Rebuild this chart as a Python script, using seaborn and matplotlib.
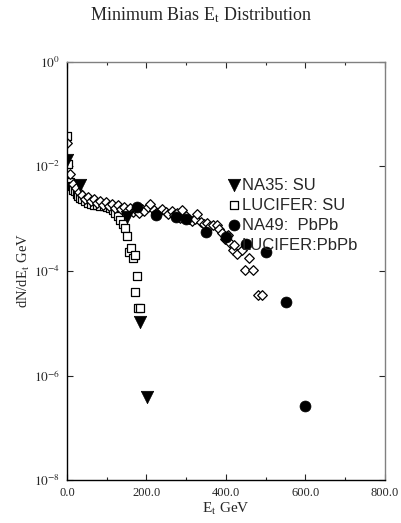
import matplotlib
matplotlib.use('Agg')
import matplotlib.pyplot as plt
import seaborn as sns
import numpy as np
from matplotlib.ticker import FixedLocator, MultipleLocator

# NA35 S+Au (filled triangles)
na35_et = [0, 33, 150, 184, 201]
na35_dn = [1.32e-2, 4.4e-3, 1.07e-3, 1.05e-5, 3.9e-7]

# LUCIFER S+Au (open squares)
lucsu_et = [0, 3, 8, 12, 16, 20, 24, 28, 33, 38, 45, 52, 60, 68, 76, 84, 92, 100,
            108, 116, 122, 128, 134, 140, 146, 151, 156, 160, 166, 170, 176, 171, 179, 184]
lucsu_dn = [3.8e-2, 1.10e-2, 5.0e-3, 4.2e-3, 3.6e-3, 3.3e-3, 3.0e-3, 2.75e-3, 2.5e-3,
            2.35e-3, 2.2e-3, 2.0e-3, 1.9e-3, 1.8e-3, 1.8e-3, 1.74e-3, 1.74e-3, 1.66e-3,
            1.58e-3, 1.45e-3, 1.26e-3, 1.10e-3, 9.5e-4, 7.9e-4, 6.6e-4, 4.6e-4, 2.3e-4,
            2.75e-4, 1.74e-4, 2.0e-4, 7.9e-5, 4.0e-5, 1.95e-5, 1.95e-5]

# NA49 Pb+Pb (filled circles)
na49_et = [175, 225, 275, 300, 350, 400, 450, 500, 550, 600]
na49_dn = [1.66e-3, 1.17e-3, 1.07e-3, 9.8e-4, 5.5e-4, 4.5e-4, 3.2e-4, 2.3e-4, 2.5e-5, 2.6e-7]

# LUCIFER Pb+Pb (open diamonds)
lucpb_et = [0, 8, 15, 22, 30, 38, 45, 53, 60, 68, 75, 83, 90, 98, 105, 113, 120, 128,
            135, 143, 150, 158, 165, 173, 180, 188, 195, 203, 210, 218, 225, 233, 240,
            248, 255, 263, 270, 278, 285, 290, 300, 308, 315, 323, 327, 338, 345, 353,
            360, 368, 377, 383, 390, 398, 405, 410, 418, 428, 440, 448, 458, 468, 480, 490]
lucpb_dn = [2.75e-2, 7.1e-3, 4.5e-3, 3.8e-3, 3.2e-3, 2.8e-3, 2.4e-3, 2.6e-3, 2.2e-3,
            2.4e-3, 2.0e-3, 2.2e-3, 1.8e-3, 2.1e-3, 1.74e-3, 1.9e-3, 1.58e-3, 1.8e-3,
            1.51e-3, 1.66e-3, 1.41e-3, 1.58e-3, 1.32e-3, 1.45e-3, 1.26e-3, 1.51e-3,
            1.38e-3, 1.66e-3, 1.9e-3, 1.45e-3, 1.26e-3, 1.38e-3, 1.51e-3, 1.32e-3,
            1.20e-3, 1.38e-3, 1.15e-3, 1.26e-3, 1.05e-3, 1.48e-3, 1.10e-3, 1.0e-3,
            9.1e-4, 1.0e-3, 1.20e-3, 8.7e-4, 7.9e-4, 8.3e-4, 7.2e-4, 7.6e-4, 7.6e-4,
            6.3e-4, 5.2e-4, 4.0e-4, 4.8e-4, 3.4e-4, 2.5e-4, 2.1e-4, 2.5e-4, 1.02e-4,
            1.74e-4, 1.02e-4, 3.5e-5, 3.5e-5]

x_ticks = [0, 200, 400, 600, 800]
x_labels = ['0.0', '200.0', '400.0', '600.0', '800.0']
y_ticks = [1e-8, 1e-6, 1e-4, 1e-2, 1e0]
y_labels = [r'$10^{-8}$', r'$10^{-6}$', r'$10^{-4}$', r'$10^{-2}$', r'$10^{0}$']

sns.set_style('ticks')
plt.rcParams['font.family'] = ['Liberation Serif', 'DejaVu Serif']
plt.rcParams['mathtext.fontset'] = 'stix'

fig = plt.figure(figsize=(4.01, 5.23), dpi=100)
ax = fig.add_axes([0.167, 0.082, 0.793, 0.8])

sns.scatterplot(x=na35_et, y=na35_dn, marker='v', s=80, color='black',
                edgecolor='black', linewidth=0.5, ax=ax, label='NA35: SU', zorder=3)
sns.scatterplot(x=lucsu_et, y=lucsu_dn, marker='s', s=32, color='white',
                edgecolor='black', linewidth=0.9, ax=ax, label='LUCIFER: SU', zorder=2)
sns.scatterplot(x=na49_et, y=na49_dn, marker='o', s=62, color='black',
                edgecolor='black', linewidth=0.5, ax=ax, label='NA49:  PbPb', zorder=3)
sns.scatterplot(x=lucpb_et, y=lucpb_dn, marker='D', s=24, color='white',
                edgecolor='black', linewidth=0.9, ax=ax, label='LUCIFER:PbPb', zorder=2)

ax.set_yscale('log')
ax.set_xlim(0, 800)
ax.set_ylim(1e-8, 1e0)
ax.xaxis.set_major_locator(FixedLocator(x_ticks))
ax.set_xticklabels(x_labels)
ax.xaxis.set_minor_locator(MultipleLocator(100))
ax.yaxis.set_major_locator(FixedLocator(y_ticks))
ax.yaxis.set_minor_locator(FixedLocator([]))
ax.set_yticklabels(y_labels)
ax.tick_params(which='both', direction='in', top=True, right=True,
               length=4, width=0.8, pad=5)
ax.tick_params(axis='x', labelsize=9)
ax.tick_params(axis='y', labelsize=9.5)
ax.tick_params(which='minor', length=2.5)

for side in ['left', 'bottom']:
    ax.spines[side].set_color('black')
    ax.spines[side].set_linewidth(1.0)
for side in ['top', 'right']:
    ax.spines[side].set_visible(True)
    ax.spines[side].set_color('#808080')
    ax.spines[side].set_linewidth(1.0)

ax.set_xlabel(r'E$_{\rm t}$ GeV', fontsize=11, labelpad=1)
ax.set_ylabel(r'dN/dE$_{\rm t}$ GeV', fontsize=10.5, labelpad=1)
fig.text(0.5, 0.97, r'Minimum Bias E$_{\rm t}$ Distribution', ha='center', va='center',
         fontsize=13)

leg = ax.legend(loc='upper left', bbox_to_anchor=(0.545, 0.673), bbox_transform=fig.transFigure,
                frameon=False, handletextpad=0.0, handlelength=1.0, labelspacing=0.3,
                borderaxespad=0, prop={'family': 'Liberation Sans', 'size': 12})

fig.savefig('out.png', dpi=100)
